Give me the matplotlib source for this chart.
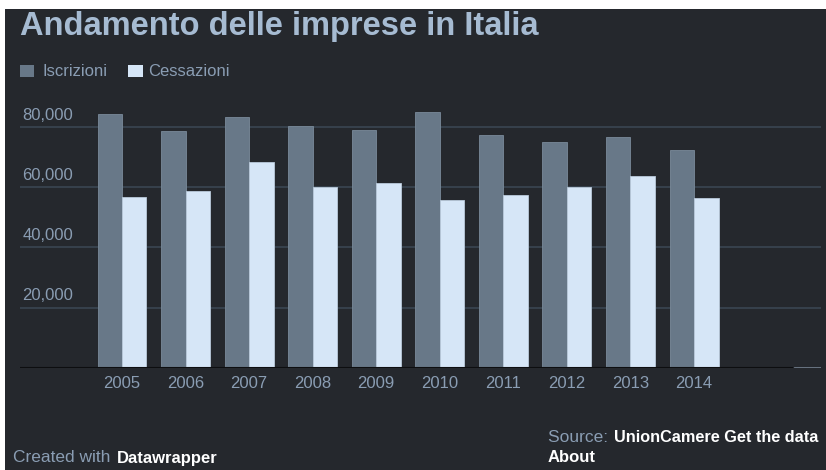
import matplotlib
matplotlib.use("Agg")
import matplotlib.pyplot as plt
import numpy as np
from matplotlib.patches import Rectangle

plt.rcParams['font.family'] = ['Liberation Sans', 'DejaVu Sans']

years = ['2005', '2006', '2007', '2008', '2009', '2010', '2011', '2012', '2013', '2014']
iscrizioni = [84400, 78900, 83600, 80500, 79200, 85200, 77400, 75100, 76900, 72600]
cessazioni = [56800, 58800, 68600, 60300, 61500, 55700, 57600, 60300, 63800, 56500]
y_ticks = [20000, 40000, 60000, 80000]

bg = '#25282d'
c_iscr = '#687888'
c_cess = '#d6e6f7'
c_label = '#8a9db3'
c_grid = '#3a4652'

W, H = 826, 470
fig = plt.figure(figsize=(W / 100, H / 100), dpi=100)
fig.patch.set_facecolor('white')


def fx(px):
    return px / W


def fy(py):
    return 1 - py / H


# dark panel (white strip on top and left like the screenshot)
panel = fig.add_axes([fx(5), 0, 1 - fx(5), (H - 9) / H])
panel.set_facecolor(bg)
panel.set_axis_off()
panel.add_patch(Rectangle((0, 0), 1, 1, transform=panel.transAxes, color=bg))
panel.set_zorder(0)

# plot area in pixel coordinates
ax_left, ax_right, ax_bottom, ax_top = 20, 821, 367.5, 97.5
ax = fig.add_axes([fx(ax_left), fy(ax_bottom), fx(ax_right - ax_left), (ax_bottom - ax_top) / H])
ax.set_facecolor('none')
ax.set_zorder(2)

x = np.arange(len(years))
width = 0.385
ax.bar(x - width / 2, iscrizioni, width=width, color=c_iscr, edgecolor='#7a8a9a', linewidth=0.6, zorder=3)
ax.bar(x + width / 2, cessazioni, width=width, color=c_cess, edgecolor='#b9c9da', linewidth=0.6, zorder=3)

pitch = 63.56
ax.set_xlim((ax_left - 122) / pitch, (ax_right - 122) / pitch)
ax.set_ylim(0, 90000)

for v in y_ticks:
    ax.axhline(v, color=c_grid, linewidth=1.2, zorder=1)
    ax.text(0.003, v + 4000, f'{v:,}', transform=ax.get_yaxis_transform(),
            color=c_label, fontsize=12, ha='left', va='center')

ax.axhline(0, xmin=0, xmax=0.964, color='#0d0e10', linewidth=1.5, zorder=4)
ax.axhline(0, xmin=0.967, xmax=1.0, color='#6f7b88', linewidth=2, zorder=4)

for i, yr in enumerate(years):
    ax.text(x[i], -5200, yr, color=c_label, fontsize=12, ha='center', va='center', clip_on=False)

for s in ax.spines.values():
    s.set_visible(False)
ax.set_xticks([])
ax.set_yticks([])

# title
fig.text(fx(20), fy(26), 'Andamento delle imprese in Italia', color='#a6bbd2',
         fontsize=23.5, fontweight='bold', ha='left', va='center', zorder=5)

# legend
fig.patches.append(Rectangle((fx(20), fy(77)), 14 / W, 12 / H, transform=fig.transFigure,
                             facecolor=c_iscr, edgecolor='none', zorder=5))
fig.text(fx(42), fy(71), 'Iscrizioni', color=c_label, fontsize=12, ha='left', va='center', zorder=5)
fig.patches.append(Rectangle((fx(128), fy(77)), 15 / W, 12 / H, transform=fig.transFigure,
                             facecolor=c_cess, edgecolor='none', zorder=5))
fig.text(fx(148), fy(71), 'Cessazioni', color=c_label, fontsize=12, ha='left', va='center', zorder=5)

# footer
fig.text(fx(13), fy(458), 'Created with ', color=c_label, fontsize=12.5, ha='left', va='center', zorder=5)
fig.text(fx(117), fy(458), 'Datawrapper', color='white', fontsize=12, fontweight='bold',
         ha='left', va='center', zorder=5)
fig.text(fx(548), fy(437), 'Source: ', color=c_label, fontsize=12.5, ha='left', va='center', zorder=5)
fig.text(fx(614), fy(437), 'UnionCamere Get the data', color='white', fontsize=11.7,
         fontweight='bold', ha='left', va='center', zorder=5)
fig.text(fx(548), fy(458), 'About', color='white', fontsize=12, fontweight='bold',
         ha='left', va='center', zorder=5)

fig.savefig('out.png', dpi=100, facecolor=fig.get_facecolor())
